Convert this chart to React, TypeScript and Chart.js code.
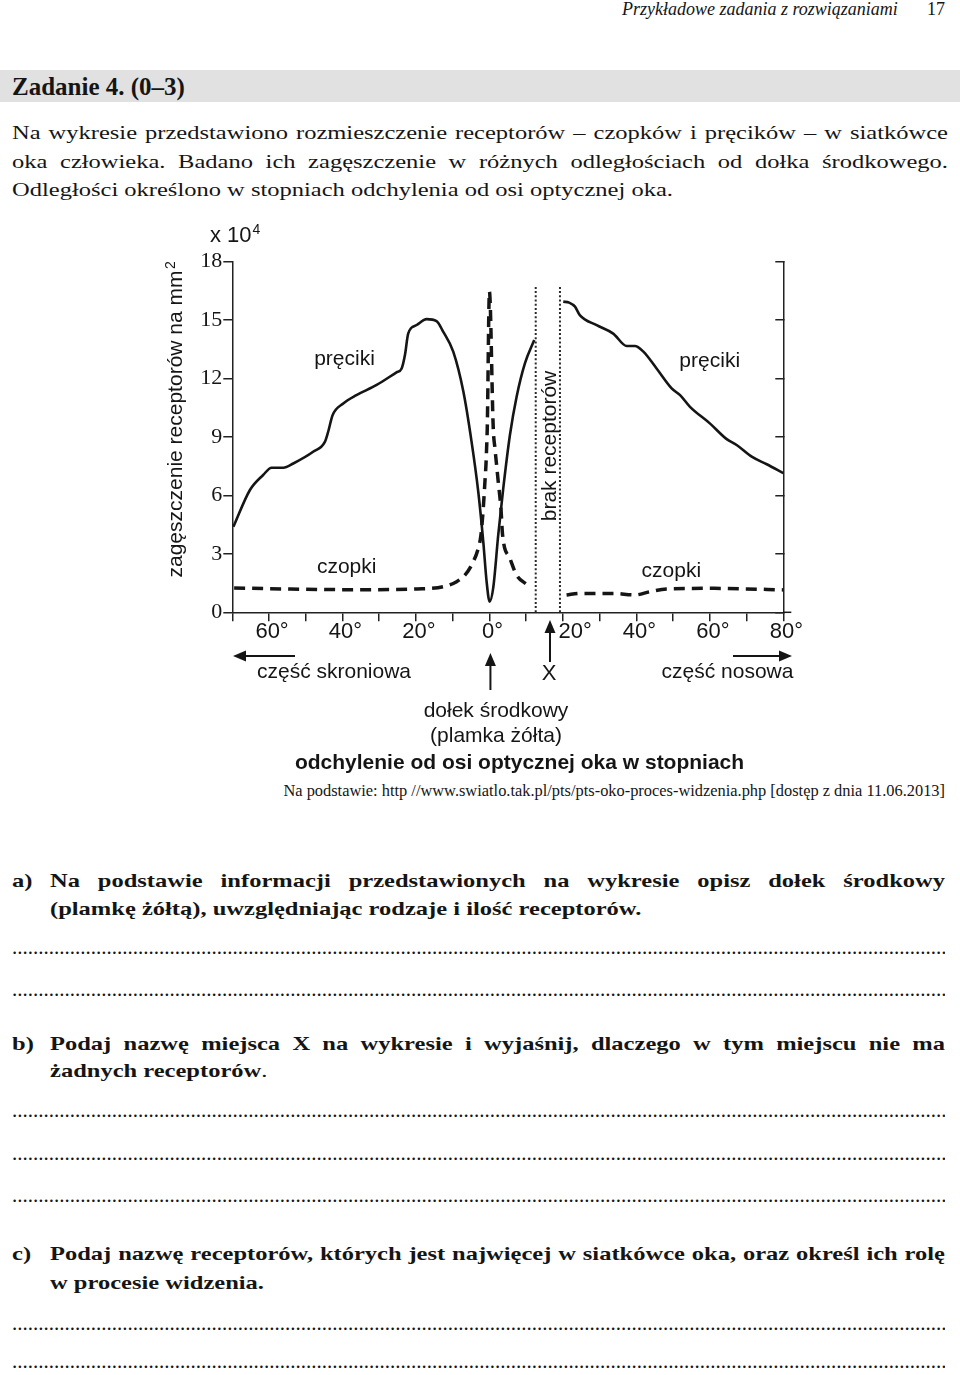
import React, { useEffect, useRef } from 'react';
import { Chart, registerables } from 'chart.js';

Chart.register(...registerables);

// ---- data (x: degrees from the optical axis, y: receptors per mm² ×10⁴) ----
const rodsTemporalDeg = [-69.7, -65.2, -61.6, -59.3, -56.1, -53.4, -48.0, -44.8, -43.9, -42.7, -39.8, -36.2, -30.7, -25.3, -23.9, -23.0, -22.1, -19.8, -17.1, -14.4, -12.6, -9.85, -7.1, -4.86, -3.04, -1.68, -0.77, 0.05, 1.04, 2.4, 3.77, 5.58, 7.4, 9.66, 12.2];
const rodsTemporalDensity = [4.39, 6.28, 7.05, 7.42, 7.42, 7.64, 8.24, 8.75, 9.27, 10.12, 10.72, 11.15, 11.67, 12.32, 12.52, 13.21, 14.32, 14.75, 15.05, 14.95, 14.41, 13.38, 11.33, 8.75, 6.19, 3.63, 1.58, 0.55, 1.27, 3.97, 6.37, 9.1, 11.07, 12.78, 13.98];

const rodsNasalDeg = [20.1, 21.7, 23.3, 24.6, 29.2, 33.7, 37.4, 39.6, 41.9, 45.5, 49.6, 51.9, 54.6, 60.0, 64.6, 67.3, 71.4, 75.5, 80];
const rodsNasalDensity = [15.95, 15.9, 15.69, 15.26, 14.74, 14.31, 13.67, 13.67, 13.38, 12.52, 11.5, 11.15, 10.55, 9.7, 8.89, 8.59, 7.99, 7.6, 7.14];

const conesTemporalDeg = [-69.5, -56, -36, -19.7, -12.6, -8.94, -6.67, -4.85, -3.04, -2.31, -1.68, -1.23, -0.95, -0.77, -0.59, 0, 1.04, 1.5, 1.95, 2.4, 3.13, 3.58, 5.58, 7.4, 10.4];
const conesTemporalDensity = [1.25, 1.2, 1.16, 1.2, 1.31, 1.57, 1.91, 2.43, 3.28, 3.97, 5.33, 6.7, 7.56, 8.42, 9.45, 16.46, 9.45, 8.42, 7.56, 6.7, 5.33, 3.97, 2.77, 1.91, 1.4];

const conesNasalDeg = [21.0, 24.6, 33.7, 39.6, 43.7, 48.2, 60.9, 70, 80];
const conesNasalDensity = [0.89, 0.97, 0.97, 0.89, 1.06, 1.2, 1.23, 1.2, 1.15];

const blindSpotEdgesDeg = [12.6, 19.2];
const blindSpotTop = 16.7;

const xLabelValues = [-60, -40, -20, 0, 20, 40, 60, 80];
const xLabelTexts = ['60°', '40°', '20°', '0°', '   20°', '40°', '60°', '80°'];

// ---- layout ----
const INK = '#151515';
const SANS = '"Liberation Sans", Arial, sans-serif';
const SERIF = '"Liberation Serif", "Times New Roman", serif';
const CW = 660;
const CH = 565;
const PLOT_LEFT = 82.3;
const PLOT_RIGHT = 633.3;
const PLOT_TOP = 46.7;
const PLOT_BOTTOM = 397.3;

const zip = (xs: number[], ys: number[]) => xs.map((x, i) => ({ x, y: ys[i] }));

function drawArrow(ctx: CanvasRenderingContext2D, x1: number, y1: number, x2: number, y2: number) {
  const ang = Math.atan2(y2 - y1, x2 - x1);
  const hl = 13;
  const hw = 5.5;
  const bx = x2 - hl * Math.cos(ang);
  const by = y2 - hl * Math.sin(ang);
  ctx.lineWidth = 2;
  ctx.beginPath();
  ctx.moveTo(x1, y1);
  ctx.lineTo(bx, by);
  ctx.stroke();
  ctx.beginPath();
  ctx.moveTo(x2, y2);
  ctx.lineTo(bx + hw * Math.sin(ang), by - hw * Math.cos(ang));
  ctx.lineTo(bx - hw * Math.sin(ang), by + hw * Math.cos(ang));
  ctx.closePath();
  ctx.fill();
}

const annotationPlugin = {
  id: 'retinaAnnotations',
  afterDraw(chart: any) {
    const { ctx, chartArea } = chart;
    const xs = chart.scales.x;
    const R = chartArea.right;
    const B = chartArea.bottom;
    const L = chartArea.left;
    const T = chartArea.top;
    ctx.save();
    ctx.fillStyle = INK;
    ctx.strokeStyle = INK;
    ctx.textBaseline = 'alphabetic';

    // x-axis line runs a little past the right frame
    ctx.lineWidth = 1.5;
    ctx.beginPath();
    ctx.moveTo(R, B);
    ctx.lineTo(R + 8, B);
    ctx.stroke();

    // unit "x 10^4"
    ctx.textAlign = 'left';
    ctx.font = `22px ${SANS}`;
    const ux = L - 22.3;
    ctx.fillText('x 10', ux, T - 20);
    const uw = ctx.measureText('x 10').width;
    ctx.font = `14px ${SANS}`;
    ctx.fillText('4', ux + uw + 1, T - 28);

    // y-axis title (rotated)
    ctx.save();
    ctx.translate(31.7, 209);
    ctx.rotate(-Math.PI / 2);
    ctx.font = `21px ${SANS}`;
    ctx.textAlign = 'center';
    const yt = 'zagęszczenie receptorów na mm';
    ctx.fillText(yt, 0, 0);
    const ytw = ctx.measureText(yt).width;
    ctx.font = `14px ${SANS}`;
    ctx.textAlign = 'left';
    ctx.fillText('2', ytw / 2 + 1.5, -7);
    ctx.restore();

    // "brak receptorów" between the dotted lines
    ctx.save();
    ctx.translate(406, 231);
    ctx.rotate(-Math.PI / 2);
    ctx.font = `21px ${SANS}`;
    ctx.textAlign = 'center';
    ctx.fillText('brak receptorów', 0, 0);
    ctx.restore();

    // curve labels
    ctx.font = `21px ${SANS}`;
    ctx.textAlign = 'center';
    ctx.fillText('pręciki', 194.5, 150);
    ctx.fillText('pręciki', 559.7, 151.7);
    ctx.fillText('czopki', 196.7, 358.3);
    ctx.fillText('czopki', 521.3, 361.7);

    // below the axis
    drawArrow(ctx, 145, 441, 83, 441);
    drawArrow(ctx, 583, 441, 642, 441);
    const x0 = xs.getPixelForValue(0) + 1;
    drawArrow(ctx, x0, 475, x0, 438);
    drawArrow(ctx, 400, 447, 400, 405);

    ctx.font = `21px ${SANS}`;
    ctx.fillText('część skroniowa', 184, 463);
    ctx.fillText('część nosowa', 577.5, 463);
    ctx.fillText('dołek środkowy', 346, 502);
    ctx.fillText('(plamka żółta)', 346, 527);
    ctx.font = `22px ${SANS}`;
    ctx.fillText('X', 399, 465);

    ctx.font = `bold 21px ${SANS}`;
    ctx.fillText('odchylenie od osi optycznej oka w stopniach', 369.5, 554);
    ctx.restore();
  },
};

function buildConfig(): any {
  const lineBase = { pointRadius: 0, pointHoverRadius: 0, fill: false, yAxisID: 'y' };
  const datasets: any[] = [
    ...blindSpotEdgesDeg.map((d, i) => ({
      ...lineBase,
      label: 'granica ' + (i + 1),
      data: [{ x: d, y: 0 }, { x: d, y: blindSpotTop }],
      borderColor: '#2a2a2a',
      borderWidth: 2,
      borderDash: [2, 2.2],
      tension: 0,
    })),
    {
      ...lineBase,
      label: 'pręciki (część skroniowa)',
      data: zip(rodsTemporalDeg, rodsTemporalDensity),
      borderColor: INK,
      borderWidth: 2.6,
      cubicInterpolationMode: 'monotone',
    },
    {
      ...lineBase,
      label: 'pręciki (część nosowa)',
      data: zip(rodsNasalDeg, rodsNasalDensity),
      borderColor: INK,
      borderWidth: 2.6,
      cubicInterpolationMode: 'monotone',
    },
    {
      ...lineBase,
      label: 'czopki (część skroniowa)',
      data: zip(conesTemporalDeg, conesTemporalDensity),
      borderColor: INK,
      borderWidth: 3.5,
      borderDash: [11, 7],
      cubicInterpolationMode: 'monotone',
    },
    {
      ...lineBase,
      label: 'czopki (część nosowa)',
      data: zip(conesNasalDeg, conesNasalDensity),
      borderColor: INK,
      borderWidth: 3.5,
      borderDash: [11, 7],
      cubicInterpolationMode: 'monotone',
    },
  ];

  const axisGrid = {
    drawOnChartArea: false,
    drawTicks: true,
    tickLength: 9,
    tickColor: '#222',
    tickWidth: 1.5,
    color: '#222',
    lineWidth: 1.5,
  };
  const axisBorder = { display: true, color: '#222', width: 1.5 };

  return {
    type: 'line',
    data: { datasets },
    plugins: [annotationPlugin],
    options: {
      responsive: false,
      maintainAspectRatio: false,
      animation: false,
      events: [],
      layout: { padding: { top: PLOT_TOP, left: 0, right: 0, bottom: 0 } },
      plugins: {
        legend: { display: false },
        tooltip: { enabled: false },
        title: { display: false },
      },
      scales: {
        x: {
          type: 'linear',
          position: 'bottom',
          min: -70,
          max: 80,
          ticks: {
            stepSize: 10,
            autoSkip: false,
            maxRotation: 0,
            minRotation: 0,
            padding: 0,
            labelOffset: 3,
            color: INK,
            font: { family: SANS, size: 22, lineHeight: 1 },
            callback: (v: any) => {
              const i = xLabelValues.indexOf(Number(v));
              return i >= 0 ? xLabelTexts[i] : '';
            },
          },
          grid: axisGrid,
          border: axisBorder,
          afterFit: (s: any) => {
            s.height = CH - PLOT_BOTTOM;
          },
        },
        y: {
          type: 'linear',
          position: 'left',
          min: 0,
          max: 18,
          ticks: {
            stepSize: 3,
            padding: 1,
            color: INK,
            font: { family: SERIF, size: 22 },
          },
          grid: axisGrid,
          border: axisBorder,
          afterFit: (s: any) => {
            s.width = PLOT_LEFT;
          },
        },
        y2: {
          type: 'linear',
          position: 'right',
          min: 0,
          max: 18,
          ticks: { stepSize: 3, display: false },
          grid: { ...axisGrid, tickLength: -8 },
          border: axisBorder,
          afterFit: (s: any) => {
            s.width = CW - PLOT_RIGHT;
          },
        },
      },
    },
  };
}

type TxtProps = {
  x: number;
  base: number;
  size: number;
  sans?: boolean;
  bold?: boolean;
  italic?: boolean;
  sx?: number;
  width?: number;
  justify?: boolean;
  align?: 'left' | 'right' | 'center';
  clip?: boolean;
  children?: any;
};

function Txt({ x, base, size, sans, bold, italic, sx = 1, width, justify, align, clip, children }: TxtProps) {
  const asc = sans ? 0.8465 : 0.8375;
  const style: any = {
    position: 'absolute',
    left: x,
    top: base - asc * size,
    fontFamily: sans ? SANS : SERIF,
    fontSize: size,
    lineHeight: `${size}px`,
    fontWeight: bold ? 'bold' : 'normal',
    fontStyle: italic ? 'italic' : 'normal',
    color: INK,
    whiteSpace: justify ? 'normal' : 'nowrap',
    transformOrigin: 'left top',
  };
  if (sx !== 1) style.transform = `scaleX(${sx})`;
  if (width !== undefined) style.width = width / sx;
  if (justify) {
    style.textAlign = 'justify';
    style.textAlignLast = 'justify';
  } else if (align) {
    style.textAlign = align;
  }
  if (clip) style.overflow = 'hidden';
  return <div style={style}>{children}</div>;
}

const SX = 1.29;
const DOTS = '.'.repeat(260);
const dotBaselines = [955, 997, 1118, 1161, 1203, 1331, 1369];

export default function App() {
  const canvasRef = useRef<HTMLCanvasElement | null>(null);

  useEffect(() => {
    const chart = new Chart(canvasRef.current as HTMLCanvasElement, buildConfig());
    return () => chart.destroy();
  }, []);

  return (
    <div style={{ position: 'absolute', left: 0, top: 0, width: 960, height: 1375, background: '#fff', overflow: 'hidden' }}>
      <Txt x={622} base={15} size={18} italic>Przykładowe zadania z rozwiązaniami</Txt>
      <Txt x={927} base={15} size={18}>17</Txt>

      <div style={{ position: 'absolute', left: 0, top: 70, width: 960, height: 32, background: '#e1e1e1' }} />
      <Txt x={12} base={95} size={25} bold>Zadanie 4. (0–3)</Txt>

      <Txt x={12} base={139} size={19} sx={SX} width={936} justify>
        Na wykresie przedstawiono rozmieszczenie receptorów – czopków i pręcików – w siatkówce
      </Txt>
      <Txt x={12} base={167.5} size={19} sx={SX} width={936} justify>
        oka człowieka. Badano ich zagęszczenie w różnych odległościach od dołka środkowego.
      </Txt>
      <Txt x={12} base={196} size={19} sx={SX}>
        Odległości określono w stopniach odchylenia od osi optycznej oka.
      </Txt>

      <canvas
        ref={canvasRef}
        width={CW}
        height={CH}
        style={{ position: 'absolute', left: 150, top: 215, width: CW, height: CH, display: 'block' }}
      />

      <Txt x={100} base={797} size={16.4} width={845} align="right">
        Na podstawie: http //www.swiatlo.tak.pl/pts/pts-oko-proces-widzenia.php [dostęp z dnia 11.06.2013]
      </Txt>

      <Txt x={12} base={887} size={19} sx={SX} bold>a)</Txt>
      <Txt x={50} base={887} size={19} sx={SX} width={895} justify bold>
        Na podstawie informacji przedstawionych na wykresie opisz dołek środkowy
      </Txt>
      <Txt x={50} base={915} size={19} sx={SX} bold>
        (plamkę żółtą), uwzględniając rodzaje i ilość receptorów.
      </Txt>

      <Txt x={12} base={1050} size={19} sx={SX} bold>b)</Txt>
      <Txt x={50} base={1050} size={19} sx={SX} width={895} justify bold>
        Podaj nazwę miejsca X na wykresie i wyjaśnij, dlaczego w tym miejscu nie ma
      </Txt>
      <Txt x={50} base={1077} size={19} sx={SX} bold>
        żadnych receptorów<span style={{ fontWeight: 'normal' }}>.</span>
      </Txt>

      <Txt x={12} base={1260} size={19} sx={SX} bold>c)</Txt>
      <Txt x={50} base={1260} size={19} sx={SX} width={895} justify bold>
        Podaj nazwę receptorów, których jest najwięcej w siatkówce oka, oraz określ ich rolę
      </Txt>
      <Txt x={50} base={1288.5} size={19} sx={SX} bold>
        w procesie widzenia.
      </Txt>

      {dotBaselines.map((b) => (
        <Txt key={b} x={12} base={b} size={21} width={933} clip>
          {DOTS}
        </Txt>
      ))}
    </div>
  );
}
